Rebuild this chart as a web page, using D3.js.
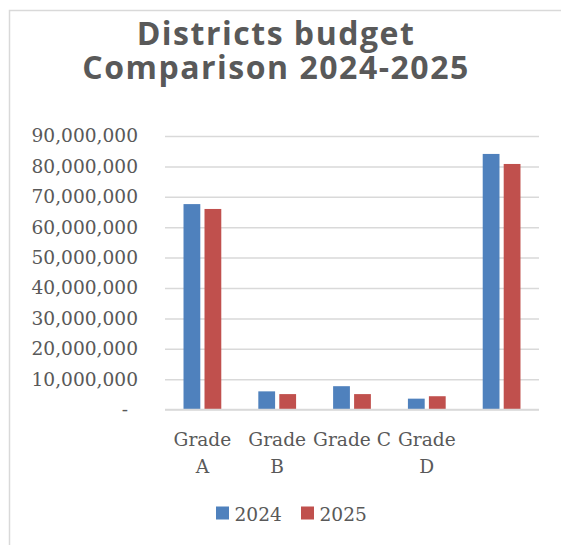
<!DOCTYPE html>
<html>
<head>
<meta charset="utf-8">
<script src="https://cdn.jsdelivr.net/npm/d3@7"></script>
<style>
  html, body { margin: 0; padding: 0; background: #fff; }
  svg { display: block; }
</style>
</head>
<body>
<svg id="chart" width="561" height="545"></svg>
<script>
// Budget per district grade; the last, unlabeled group is the overall total
const categories = ["Grade A", "Grade B", "Grade C", "Grade D", "Total"];
const categoryLabelLines = [["Grade", "A"], ["Grade", "B"], ["Grade C"], ["Grade", "D"], []];
const seriesNames = ["2024", "2025"];
const budget2024 = [67600000, 6000000, 7700000, 3600000, 84100000];
const budget2025 = [66000000, 5100000, 5100000, 4400000, 80800000];
const yTicks = [0, 10000000, 20000000, 30000000, 40000000, 50000000, 60000000, 70000000, 80000000, 90000000];
const titleLines = ["Districts budget", "Comparison 2024-2025"];
const colors = ["#4f81bd", "#c0504d"];

const svg = d3.select("#chart");
const textColor = "#595959";
const gridColor = "#d9d9d9";
const axisFont = "'DejaVu Sans', sans-serif";
const serifFont = "'DejaVu Serif', serif";

// chart frame
svg.append("rect")
  .attr("x", 9.5).attr("y", 10.5)
  .attr("width", 620).attr("height", 620)
  .attr("fill", "#fff").attr("stroke", gridColor).attr("stroke-width", 1.5);

// title
const titleSel = svg.append("g").attr("font-family", "'Open Sans', 'Noto Sans', sans-serif")
  .attr("font-weight", 700).attr("fill", textColor).attr("text-anchor", "middle");
const titleBaselines = [44.5, 79];
titleLines.forEach((t, i) => {
  titleSel.append("text").attr("x", 276).attr("y", titleBaselines[i])
    .attr("font-size", 32).text(t);
});
// spread letters so the longer line spans the intended width
const longest = titleSel.selectAll("text").nodes()[1];
const w = longest.getComputedTextLength();
const spacing = (386 - w) / (titleLines[1].length - 1);
titleSel.selectAll("text").attr("letter-spacing", spacing);

// scales
const x0 = d3.scaleBand().domain(categories).range([165, 539]).paddingInner(0).paddingOuter(0);
const groupW = x0.bandwidth() * 0.505;
const x1 = d3.scaleBand().domain(seriesNames).range([0, groupW]).paddingInner(0.2);
const y = d3.scaleLinear().domain([0, 90000000]).range([409.6, 136]);

// gridlines
const yAxis = d3.axisLeft(y).tickValues(yTicks)
  .tickSize(-(539 - 165))
  .tickFormat(d => d === 0 ? "-" : d3.format(",")(d));
const gAxis = svg.append("g").attr("transform", "translate(165,0)").call(yAxis);
gAxis.select(".domain").remove();
gAxis.selectAll(".tick line").attr("stroke", gridColor).attr("stroke-width", 1.5);
gAxis.selectAll(".tick text")
  .attr("x", -27)
  .attr("dx", d => d === 0 ? -10 : 0)
  .attr("font-family", serifFont).attr("font-size", 18.6).attr("fill", textColor);

// bars
const rows = categories.map((c, i) => ({ cat: c, values: [budget2024[i], budget2025[i]] }));
const groups = svg.append("g").selectAll("g").data(rows).join("g")
  .attr("transform", d => `translate(${x0(d.cat) + (x0.bandwidth() - groupW) / 2},0)`);
groups.selectAll("rect")
  .data(d => d.values.map((v, j) => ({ series: seriesNames[j], value: v, j })))
  .join("rect")
  .attr("x", d => x1(d.series))
  .attr("width", x1.bandwidth())
  .attr("y", d => y(d.value))
  .attr("height", d => y(0) - y(d.value))
  .attr("fill", d => colors[d.j]);

// baseline drawn over bar bottoms
svg.append("line")
  .attr("x1", 165).attr("x2", 539)
  .attr("y1", y(0)).attr("y2", y(0))
  .attr("stroke", gridColor).attr("stroke-width", 1.5);

// category labels
const catG = svg.append("g").attr("font-family", serifFont).attr("font-size", 18.6)
  .attr("fill", textColor).attr("text-anchor", "middle");
categories.forEach((c, i) => {
  categoryLabelLines[i].forEach((line, k) => {
    catG.append("text")
      .attr("x", x0(c) + x0.bandwidth() / 2)
      .attr("y", 446 + k * 27)
      .text(line);
  });
});

// legend
const legendX = [216, 301];
const legend = svg.append("g").selectAll("g").data(seriesNames).join("g")
  .attr("transform", (d, i) => `translate(${legendX[i]},0)`);
legend.append("rect").attr("x", 0).attr("y", 506.5).attr("width", 13).attr("height", 13)
  .attr("fill", (d, i) => colors[i]);
legend.append("text").attr("x", 18.5).attr("y", 520.5)
  .attr("font-family", serifFont).attr("font-size", 18.6).attr("fill", textColor)
  .text(d => d);
</script>
</body>
</html>
